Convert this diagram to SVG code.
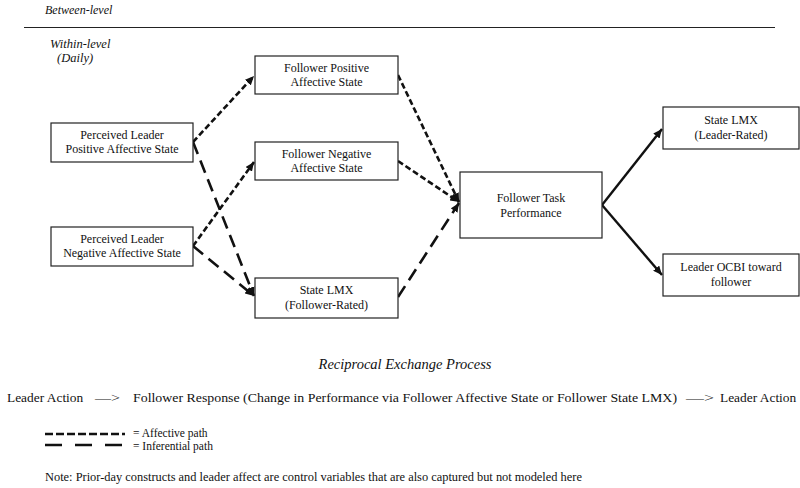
<svg xmlns="http://www.w3.org/2000/svg" width="800" height="488" viewBox="0 0 800 488">
<style>
text{font-family:"Liberation Serif","Times New Roman",serif;fill:#111;font-size:12px}
.c{text-anchor:middle}
.i{font-style:italic}
.b{font-size:13.4px}
.box{fill:#fff;stroke:#222;stroke-width:1.2}
.aff{fill:none;stroke:#111;stroke-width:2.6;stroke-dasharray:6 3}
.inf{fill:none;stroke:#111;stroke-width:2.6;stroke-dasharray:13 7}
.sol{fill:none;stroke:#111;stroke-width:2.4}
.lg{font-size:11.5px}
</style>
<defs>
<marker id="ah" markerUnits="userSpaceOnUse" markerWidth="10" markerHeight="8" refX="9" refY="4" orient="auto">
<path d="M0,0 L9,4 L0,8 z" fill="#111"/>
</marker>
</defs>
<text x="45" y="14" class="i">Between-level</text>
<line x1="24" y1="27.5" x2="775" y2="27.5" stroke="#222" stroke-width="1"/>
<text x="50" y="48" class="i" style="font-size:12.5px">Within-level</text>
<text x="57" y="62" class="i" style="font-size:12.5px">(Daily)</text>

<g id="connectors">
<path class="aff" d="M193,142 L254,76" marker-end="url(#ah)"/>
<path class="inf" d="M193,142 L254,296" marker-end="url(#ah)"/>
<path class="aff" d="M193,246 L254,162" marker-end="url(#ah)"/>
<path class="inf" d="M193,246 L254,296" marker-end="url(#ah)"/>
<path class="aff" d="M398,75 L459,202" marker-end="url(#ah)"/>
<path class="aff" d="M398,161 L459,202" marker-end="url(#ah)"/>
<path class="inf" d="M398,297 L459,203" marker-end="url(#ah)"/>
<path class="sol" d="M602,205 L662,129" marker-end="url(#ah)"/>
<path class="sol" d="M602,205 L662,275" marker-end="url(#ah)"/>
</g>

<g id="plpos"><rect class="box" x="51" y="123" width="142" height="39"/>
<text class="c" x="122" y="139">Perceived Leader</text><text class="c" x="122" y="153">Positive Affective State</text></g>
<g id="plneg"><rect class="box" x="51" y="227" width="142" height="39"/>
<text class="c" x="122" y="243">Perceived Leader</text><text class="c" x="122" y="257">Negative Affective State</text></g>
<g id="fpos"><rect class="box" x="255" y="56" width="143" height="38"/>
<text class="c" x="326.5" y="72">Follower Positive</text><text class="c" x="326.5" y="86">Affective State</text></g>
<g id="fneg"><rect class="box" x="255" y="142" width="143" height="38"/>
<text class="c" x="326.5" y="158">Follower Negative</text><text class="c" x="326.5" y="172">Affective State</text></g>
<g id="slmxf"><rect class="box" x="255" y="278" width="143" height="40"/>
<text class="c" x="326.5" y="294">State LMX</text><text class="c" x="326.5" y="309">(Follower-Rated)</text></g>
<g id="ftp"><rect class="box" x="460" y="172" width="142" height="66"/>
<text class="c" x="531" y="202">Follower Task</text><text class="c" x="531" y="217">Performance</text></g>
<g id="slmxl"><rect class="box" x="663" y="107" width="136" height="42"/>
<text class="c" x="731" y="124">State LMX</text><text class="c" x="731" y="139">(Leader-Rated)</text></g>
<g id="ocbi"><rect class="box" x="663" y="254" width="136" height="42"/>
<text class="c" x="731" y="271">Leader OCBI toward</text><text class="c" x="731" y="286">follower</text></g>

<text class="c i" x="405" y="369" style="font-size:14.5px">Reciprocal Exchange Process</text>
<g id="process">
<text class="b" x="7" y="402">Leader Action</text>
<text class="b" x="95" y="402" textLength="25" lengthAdjust="spacingAndGlyphs">—&gt;</text>
<text class="b" x="133" y="402" textLength="544" lengthAdjust="spacingAndGlyphs">Follower Response (Change in Performance via Follower Affective State or Follower State LMX)</text>
<text class="b" x="686" y="402" textLength="28" lengthAdjust="spacingAndGlyphs">—&gt;</text>
<text class="b" x="720" y="402">Leader Action</text>
</g>

<g id="legend">
<line x1="45" y1="434" x2="125" y2="434" stroke="#111" stroke-width="2.6" stroke-dasharray="8 3"/>
<line x1="45" y1="445" x2="125" y2="445" stroke="#111" stroke-width="2.6" stroke-dasharray="17 13"/>
<text class="lg" x="133" y="437">= Affective path</text>
<text class="lg" x="133" y="450">= Inferential path</text>
</g>
<text x="45" y="481" style="font-size:12.4px">Note: Prior-day constructs and leader affect are control variables that are also captured but not modeled here</text>
</svg>
